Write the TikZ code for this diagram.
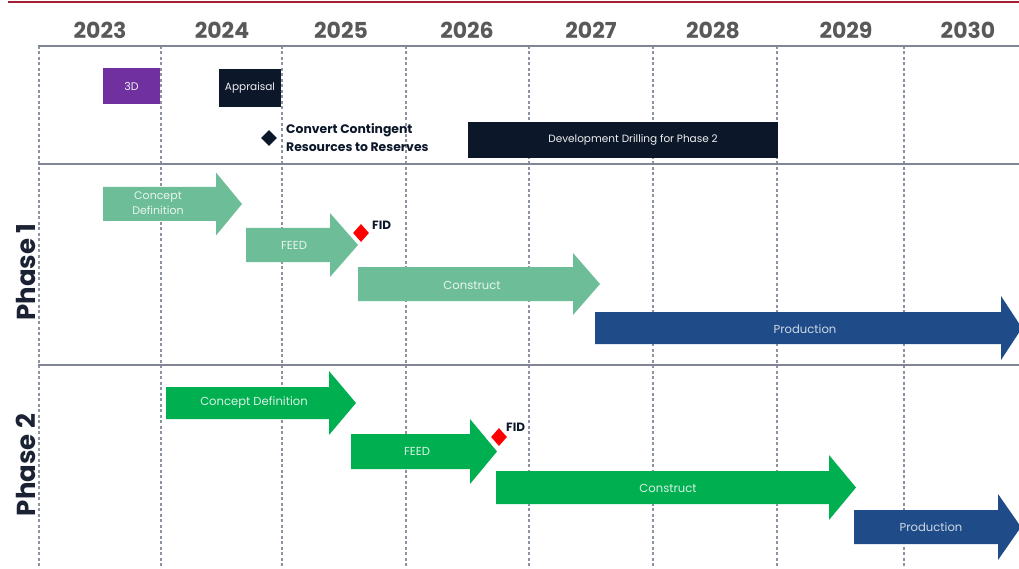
\documentclass[tikz,border=0pt]{standalone}
\usepackage{fontspec}
\setmainfont{Poppins}
\usetikzlibrary{shapes.geometric}
\definecolor{crimson}{RGB}{163,31,52}
\definecolor{yeargray}{RGB}{89,89,89}
\definecolor{gridline}{RGB}{140,147,163}
\definecolor{gridsolid}{RGB}{128,134,150}
\definecolor{navy}{RGB}{12,24,42}
\definecolor{purp}{RGB}{112,48,160}
\definecolor{lgreen}{RGB}{109,190,152}
\definecolor{bgreen}{RGB}{0,176,80}
\definecolor{prodblue}{RGB}{31,76,136}
\definecolor{phasecol}{RGB}{26,34,51}
\newcommand{\hArrow}[7]{%
  \fill[#1] (#2,#5) -- (#3,#5) -- (#3,#5-#7) -- (#4,{(#5+#6)/2}) -- (#3,#6+#7) -- (#3,#6) -- (#2,#6) -- cycle;}
\tikzset{
  yearlbl/.style={font=\fontsize{22}{25}\selectfont\bfseries, text=yeargray, inner sep=0},
  dashv/.style={draw=gridline, line width=1.1pt, dash pattern=on 3pt off 2.5pt},
  hsolid/.style={draw=gridsolid, line width=1.8pt},
  inlbl/.style={font=\fontsize{11.6}{13}\selectfont, inner sep=0, align=center},
  boxlbl/.style={font=\fontsize{10.5}{12}\selectfont, inner sep=0, text=white!88!gray},
  fidlbl/.style={font=\fontsize{12}{13}\selectfont\bfseries, text=navy, inner sep=0, anchor=west},
  phaselbl/.style={font=\fontsize{26}{28}\selectfont\bfseries, text=phasecol, inner sep=0, rotate=90},
  reddia/.style={diamond, fill=red, inner sep=0, minimum width=16pt, minimum height=18pt},
}
\begin{document}
\begin{tikzpicture}[x=1pt,y=-1pt]
\useasboundingbox (0,0) rectangle (1019,569);
\clip (0,0) rectangle (1019,569);
% top red rule
\fill[crimson] (8,1.5) rectangle (1019,3.5);
% years
\foreach \yr/\xx in {2023/100,2024/222,2025/341,2026/467,2027/591,2028/713,2029/846,2030/968}
  \node[yearlbl] (y\yr) at (\xx,30) {\yr};
% dashed verticals
\foreach \xx in {39,161,282,406,529,653,777,904}
  \draw[dashv] (\xx,46) -- (\xx,569);
% solid horizontals
\foreach \yy in {46,164,365}
  \draw[hsolid] (38,\yy) -- (1019,\yy);
% top band boxes
\fill[purp] (103,68) rectangle (160,104);
\node[boxlbl, font=\fontsize{11}{12}\selectfont] (b3d) at (131.5,86) {3D};
\fill[navy] (219,69) rectangle (281,107);
\node[boxlbl] (bapp) at (250,88) {Appraisal};
\fill[navy] (468,122) rectangle (778,158);
\node[boxlbl] (bdev) at (633,140) {Development Drilling for Phase 2};
\node[diamond, fill=navy, inner sep=0, minimum width=16pt, minimum height=16pt] (conv) at (269,138) {};
\node[font=\fontsize{12.4}{18}\selectfont\bfseries, text=navy, anchor=west, align=left, inner sep=0] (convt) at (286,138) {Convert Contingent\\Resources to Reserves};
% Phase labels
\node[phaselbl] (ph1) at (26,272) {Phase 1};
\node[phaselbl] (ph2) at (26,465) {Phase 2};
% Phase 1 arrows
\hArrow{lgreen}{103}{216}{242}{187}{221}{14.5}
\node[inlbl, font=\fontsize{11}{14.5}\selectfont, text=white!85!lgreen] (cd1) at (158,203) {Concept\\Definition};
\hArrow{lgreen}{246}{330}{358}{228}{262}{15}
\node[inlbl, text=white!85!lgreen] (feed1) at (294,245) {FEED};
\node[reddia] (fid1) at (361,233) {};
\node[fidlbl] (fid1t) at (372,225) {FID};
\hArrow{lgreen}{358}{573}{600}{267}{301}{14}
\node[inlbl, text=white!85!lgreen] (con1) at (472,285) {Construct};
\hArrow{prodblue}{595}{1001}{1022}{312}{344}{16}
\node[inlbl, text=white!78!prodblue] (prod1) at (805,329) {Production};
% Phase 2 arrows
\hArrow{bgreen}{166}{329}{356}{387}{419}{16}
\node[inlbl, text=white!85!bgreen] (cd2) at (254,403) {Concept Definition};
\hArrow{bgreen}{351}{470}{497}{434}{469}{15}
\node[inlbl, text=white!85!bgreen] (feed2) at (417,451) {FEED};
\node[reddia] (fid2) at (499,437) {};
\node[fidlbl] (fid2t) at (506,427) {FID};
\hArrow{bgreen}{496}{829}{856}{471}{504}{16}
\node[inlbl, text=white!85!bgreen] (con2) at (668,488) {Construct};
\hArrow{prodblue}{854}{998}{1021}{510}{544}{16}
\node[inlbl, text=white!78!prodblue] (prod2) at (931,527) {Production};
\end{tikzpicture}
\end{document}
